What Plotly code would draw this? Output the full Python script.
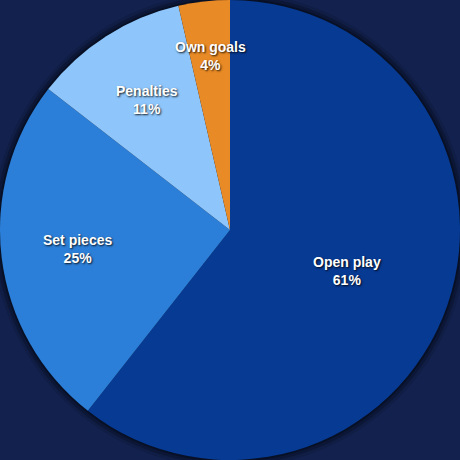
import math
import plotly.graph_objects as go

labels = ["Open play", "Set pieces", "Penalties", "Own goals"]
values = [60.6, 24.9, 10.9, 3.6]
pct_text = ["61%", "25%", "11%", "4%"]
colors = ["#073a93", "#2c7fd8", "#8ec6fb", "#e88a25"]
label_radius = [0.54, 0.67, 0.67, 0.76]

fig = go.Figure(go.Pie(
    labels=labels, values=values, sort=False, direction="clockwise", rotation=0,
    marker=dict(colors=colors, line=dict(width=0)),
    textinfo="none",
    showlegend=False, hoverinfo="label+percent",
    domain=dict(x=[0, 1], y=[0, 1]),
))
total = sum(values)
cum = 0
for lab, v, p, rf in zip(labels, values, pct_text, label_radius):
    mid = (cum + v / 2) / total * 2 * math.pi
    cum += v
    x = 0.5 + 0.5 * rf * math.sin(mid)
    y = 0.5 + 0.5 * rf * math.cos(mid)
    fig.add_annotation(x=x, y=y, xref="paper", yref="paper", showarrow=False,
                       xanchor="center", yanchor="middle",
                       text=f"{lab}<br>{p}", align="center",
                       font=dict(family="Liberation Sans, Arial", size=14, color="white",
                                 weight="bold", shadow="1px 1px 2px rgba(0,0,0,0.85)"))
for r, op in [(238, 0.12), (235, 0.2), (232, 0.3)]:
    fig.add_shape(type="circle", xref="paper", yref="paper", layer="below",
                  x0=0.5 - r / 460, x1=0.5 + r / 460, y0=0.5 - r / 460, y1=0.5 + r / 460,
                  fillcolor=f"rgba(0,0,0,{op})", line=dict(width=0))
fig.update_layout(width=460, height=460, margin=dict(l=0, r=0, t=0, b=0),
                  paper_bgcolor="#13214f", plot_bgcolor="#13214f")
fig.write_html("out.html", config={"displayModeBar": False},
               post_script="document.body.style.margin='0';document.body.style.background='#13214f';")
